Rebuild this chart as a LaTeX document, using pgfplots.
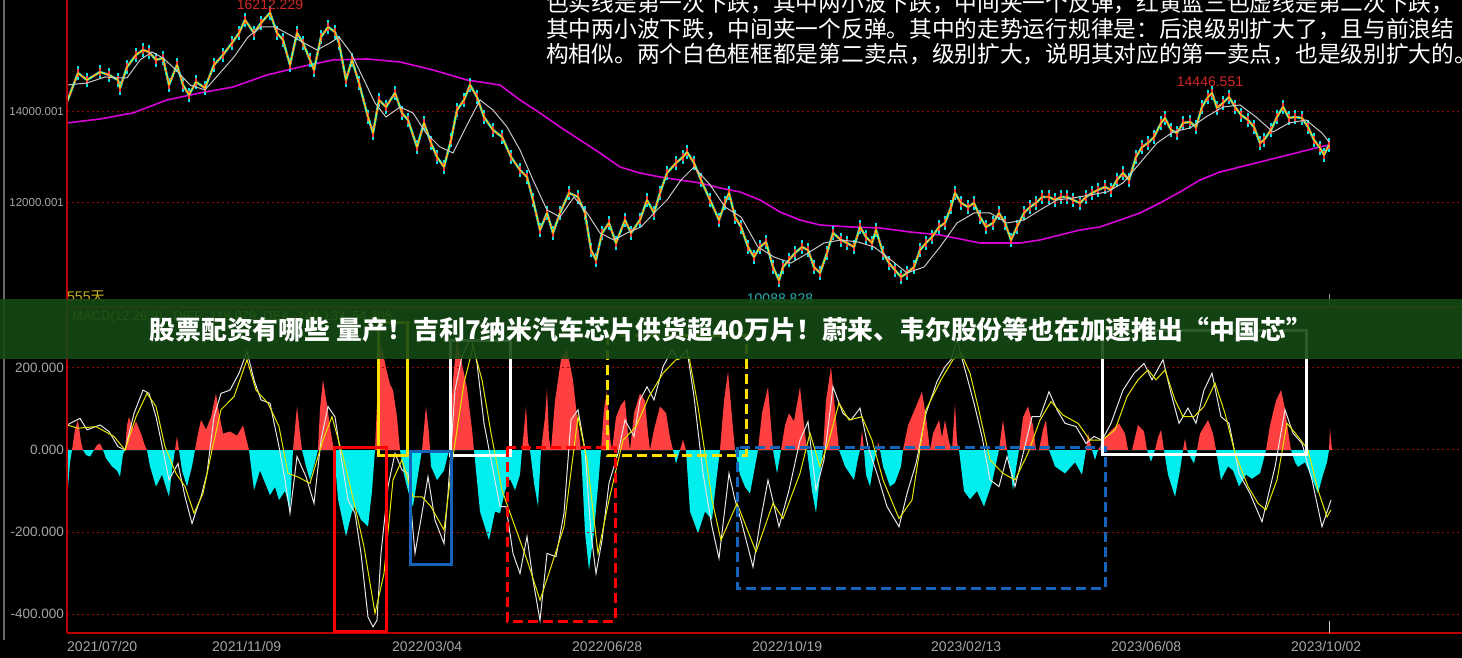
\documentclass[border=0pt]{standalone}
\usepackage{pgfplots}
\pgfplotsset{compat=1.18}
\usepackage{pgfplotstable}
\usepackage{fontspec}
\setmainfont{Liberation Sans}
\newfontfamily\cjk{Noto Sans CJK SC}
\definecolor{gridred}{RGB}{150,10,10}
\definecolor{framered}{RGB}{190,0,0}
\definecolor{pcyan}{RGB}{0,230,230}
\definecolor{pred}{RGB}{255,60,60}
\definecolor{pyellow}{RGB}{255,225,0}
\definecolor{magma}{RGB}{215,0,215}
\definecolor{magray}{RGB}{200,200,200}
\definecolor{histred}{RGB}{255,64,64}
\definecolor{histcyan}{RGB}{0,238,238}
\definecolor{deay}{RGB}{230,230,0}
\definecolor{boxblue}{RGB}{20,100,185}
\definecolor{banner}{RGB}{22,74,20}
\definecolor{ticklab}{RGB}{165,165,165}
\definecolor{labred}{RGB}{210,40,40}
\definecolor{labcyan}{RGB}{40,175,175}
\definecolor{labyel}{RGB}{200,180,30}
\definecolor{macdtxt}{RGB}{150,175,40}
\pgfplotsset{gridline/.style={gridred, line width=1pt, dash pattern=on 2pt off 3pt, forget plot}}

\pgfplotstableread[row sep=\\]{
x y\\
67 14220\\ 78 14857\\ 87 14703\\ 100 14879\\ 109 14813\\ 118 14703\\ 120 14527\\ 127 14989\\ 136 15253\\ 143 15363\\
149 15319\\ 156 15143\\ 163 15187\\ 169 14593\\ 177 15033\\ 183 14593\\ 189 14374\\ 196 14659\\ 205 14527\\ 214 15033\\
223 15253\\ 232 15516\\ 239 15736\\ 245 16022\\ 254 15736\\ 261 15956\\ 270 16180\\ 277 15736\\ 283 15582\\ 290 15033\\
297 15736\\ 303 15516\\ 310 15143\\ 314 14923\\ 321 15648\\ 328 15868\\ 335 15758\\ 339 15516\\ 346 14703\\ 352 15143\\
359 14637\\ 368 13890\\ 373 13538\\ 379 14264\\ 386 14110\\ 395 14418\\ 402 13978\\ 408 13824\\ 417 13231\\ 424 13758\\
431 13319\\ 437 13011\\ 444 12791\\ 451 13385\\ 457 14044\\ 464 14264\\ 470 14593\\ 477 14330\\ 484 13890\\ 493 13604\\
502 13451\\ 511 13011\\ 520 12725\\ 527 12571\\ 533 12066\\ 540 11407\\ 547 11780\\ 553 11341\\ 560 11780\\ 569 12220\\
578 12132\\ 585 11780\\ 591 10967\\ 596 10747\\ 602 11341\\ 609 11560\\ 616 11121\\ 625 11626\\ 631 11341\\ 640 11626\\
647 12066\\ 654 11780\\ 660 12220\\ 667 12659\\ 676 12879\\ 683 13011\\ 687 13121\\ 694 12879\\ 701 12505\\ 710 12066\\
719 11626\\ 725 12000\\ 729 12220\\ 735 11692\\ 741 11473\\ 748 11033\\ 754 10813\\ 760 11033\\ 766 11143\\ 773 10593\\
779 10300\\ 783 10593\\ 789 10747\\ 795 10901\\ 802 11033\\ 808 10967\\ 814 10593\\ 820 10462\\ 827 10901\\ 833 11341\\
841 11187\\ 847 11121\\ 854 11033\\ 860 11473\\ 866 11253\\ 872 11121\\ 876 11407\\ 883 10901\\ 889 10681\\ 895 10527\\
901 10374\\ 907 10462\\ 914 10593\\ 920 10967\\ 926 11121\\ 932 11253\\ 939 11473\\ 945 11560\\ 951 11912\\ 955 12220\\
961 12000\\ 968 11912\\ 974 12000\\ 980 11692\\ 986 11473\\ 993 11560\\ 999 11780\\ 1005 11560\\ 1011 11187\\ 1017 11473\\
1024 11780\\ 1030 11912\\ 1036 12000\\ 1042 12132\\ 1049 12132\\ 1055 12066\\ 1061 12132\\ 1067 12132\\ 1073 12066\\ 1080 12000\\
1086 12132\\ 1092 12220\\ 1098 12286\\ 1105 12352\\ 1111 12286\\ 1117 12505\\ 1123 12659\\ 1129 12505\\ 1136 13011\\ 1142 13231\\
1148 13319\\ 1154 13451\\ 1161 13758\\ 1165 13868\\ 1171 13604\\ 1177 13538\\ 1183 13758\\ 1190 13780\\ 1196 13670\\ 1202 14110\\
1208 14330\\ 1212 14418\\ 1217 14088\\ 1223 14198\\ 1229 14330\\ 1235 14110\\ 1241 13934\\ 1248 13824\\ 1254 13670\\ 1260 13319\\
1264 13385\\ 1271 13604\\ 1277 13890\\ 1283 14110\\ 1289 13868\\ 1295 13890\\ 1302 13868\\ 1308 13670\\ 1314 13385\\ 1320 13209\\
1324 13055\\ 1329 13275\\
}\price

\pgfplotstableread[row sep=\\]{
x y\\
67 14593\\ 87 14637\\ 105 14769\\ 118 14747\\ 127 14747\\ 140 15143\\ 152 15319\\ 163 15187\\ 176 14923\\ 190 14593\\
205 14484\\ 220 14857\\ 234 15209\\ 248 15648\\ 261 15868\\ 275 15868\\ 290 15692\\ 304 15516\\ 317 15363\\ 330 15516\\
339 15648\\ 351 15297\\ 364 14703\\ 375 14198\\ 386 13890\\ 400 14110\\ 413 13978\\ 426 13538\\ 440 13231\\ 453 13099\\
466 13670\\ 480 14264\\ 493 14044\\ 507 13670\\ 520 13165\\ 533 12505\\ 547 11846\\ 560 11692\\ 574 12132\\ 587 11780\\
600 11341\\ 614 11187\\ 627 11341\\ 641 11473\\ 654 11780\\ 667 12066\\ 681 12505\\ 694 12791\\ 710 12400\\ 725 11912\\
741 11692\\ 758 11033\\ 774 10813\\ 791 10681\\ 808 10901\\ 824 11121\\ 841 11187\\ 858 11143\\ 874 11033\\ 891 10747\\
907 10462\\ 924 10593\\ 940 11033\\ 957 11560\\ 974 11780\\ 990 11780\\ 1007 11560\\ 1024 11626\\ 1040 11846\\ 1057 12066\\
1073 12110\\ 1090 12176\\ 1107 12242\\ 1123 12440\\ 1140 12879\\ 1157 13319\\ 1173 13560\\ 1190 13648\\ 1206 13890\\ 1223 14110\\
1240 14154\\ 1256 13890\\ 1273 13560\\ 1289 13758\\ 1306 13824\\ 1322 13538\\ 1329 13341\\
}\maS

\pgfplotstableread[row sep=\\]{
x y\\
67 13758\\ 100 13846\\ 133 13978\\ 167 14264\\ 200 14418\\ 233 14549\\ 267 14813\\ 300 14989\\ 333 15143\\ 367 15165\\
400 15099\\ 433 14923\\ 467 14703\\ 500 14593\\ 520 14264\\ 540 13978\\ 560 13670\\ 580 13385\\ 600 13099\\ 620 12791\\
640 12659\\ 660 12571\\ 680 12505\\ 700 12440\\ 720 12330\\ 740 12242\\ 760 12066\\ 780 11802\\ 800 11626\\ 820 11516\\
850 11473\\ 880 11451\\ 910 11363\\ 940 11297\\ 960 11209\\ 980 11121\\ 1000 11121\\ 1020 11121\\ 1040 11187\\ 1060 11297\\
1080 11407\\ 1100 11473\\ 1120 11626\\ 1140 11780\\ 1160 12000\\ 1180 12242\\ 1200 12505\\ 1220 12681\\ 1240 12791\\ 1260 12901\\
1280 13011\\ 1300 13121\\ 1320 13231\\ 1329 13275\\
}\maL

\pgfplotstableread[row sep=\\]{
x y\\
67 61\\ 80 77\\ 87 49\\ 100 61\\ 109 45\\ 118 8\\ 125 0\\ 134 89\\ 143 146\\ 149 138\\ 156 81\\ 163 0\\ 169 -73\\ 178 -33\\
185 -114\\ 192 -179\\ 201 -114\\ 207 -57\\ 214 81\\ 221 138\\ 230 146\\ 239 187\\ 247 240\\ 254 171\\ 261 122\\ 270 114\\
279 8\\ 285 -73\\ 290 -154\\ 297 -16\\ 306 -65\\ 314 -130\\ 321 24\\ 328 106\\ 335 81\\ 341 -16\\ 348 -122\\ 355 -154\\
361 -252\\ 368 -407\\ 373 -431\\ 377 -415\\ 381 -252\\ 388 -89\\ 395 -8\\ 402 -49\\ 408 -57\\ 415 -252\\ 422 -154\\ 428 -65\\
435 -171\\ 444 -228\\ 448 -106\\ 455 146\\ 462 228\\ 471 276\\ 477 211\\ 484 65\\ 491 -24\\ 500 -138\\ 506 -138\\ 513 -252\\
520 -301\\ 527 -211\\ 533 -317\\ 540 -415\\ 547 -252\\ 556 -260\\ 564 -154\\ 571 73\\ 578 98\\ 585 0\\ 591 -203\\ 596 -301\\
602 -220\\ 609 -81\\ 618 -8\\ 625 73\\ 634 33\\ 640 122\\ 647 154\\ 654 122\\ 663 203\\ 672 244\\ 678 220\\ 687 244\\
694 130\\ 703 -57\\ 712 -187\\ 719 -264\\ 729 -57\\ 735 -122\\ 741 -171\\ 753 -285\\ 760 -179\\ 768 -73\\ 779 -187\\ 789 -98\\
800 24\\ 808 69\\ 816 -98\\ 824 -24\\ 833 154\\ 843 89\\ 851 73\\ 860 102\\ 868 8\\ 878 -65\\ 887 -138\\ 899 -187\\ 907 -106\\
916 -33\\ 926 89\\ 937 167\\ 945 203\\ 951 220\\ 957 268\\ 966 187\\ 974 114\\ 982 33\\ 990 -73\\ 999 -89\\ 1007 -16\\
1015 -89\\ 1024 0\\ 1032 81\\ 1040 81\\ 1049 142\\ 1057 98\\ 1065 65\\ 1076 57\\ 1086 16\\ 1094 33\\ 1102 24\\ 1111 65\\
1123 146\\ 1134 187\\ 1144 211\\ 1152 171\\ 1163 220\\ 1171 138\\ 1179 65\\ 1188 102\\ 1196 65\\ 1204 146\\ 1212 187\\ 1221 81\\
1229 65\\ 1239 -57\\ 1250 -106\\ 1262 -175\\ 1275 -41\\ 1285 98\\ 1293 41\\ 1302 16\\ 1312 -73\\ 1322 -187\\ 1331 -122\\
}\diff

\pgfplotstableread[row sep=\\]{
x y\\
67 61\\ 78 53\\ 96 57\\ 114 33\\ 125 0\\ 136 81\\ 147 138\\ 156 106\\ 165 8\\ 176 -57\\ 185 -89\\ 194 -154\\ 203 -106\\
212 0\\ 221 98\\ 234 130\\ 247 220\\ 256 146\\ 268 114\\ 279 57\\ 288 -57\\ 297 -65\\ 310 -81\\ 323 24\\ 332 81\\ 343 -16\\
355 -138\\ 364 -236\\ 375 -398\\ 384 -301\\ 393 -73\\ 402 -24\\ 413 -114\\ 422 -114\\ 431 -138\\ 444 -195\\ 453 -16\\
464 163\\ 473 252\\ 482 171\\ 491 41\\ 502 -98\\ 515 -187\\ 527 -268\\ 540 -366\\ 551 -285\\ 564 -187\\ 578 81\\ 587 -24\\
598 -252\\ 609 -122\\ 623 24\\ 636 57\\ 649 130\\ 663 187\\ 676 220\\ 689 228\\ 698 106\\ 712 -122\\ 721 -220\\ 737 -130\\
756 -248\\ 773 -130\\ 783 -167\\ 800 -57\\ 810 41\\ 820 -41\\ 829 24\\ 839 114\\ 849 73\\ 862 81\\ 872 24\\ 883 -73\\
899 -167\\ 912 -122\\ 926 98\\ 941 171\\ 953 220\\ 961 236\\ 970 187\\ 978 106\\ 990 -24\\ 1003 -57\\ 1015 -73\\ 1028 -8\\
1040 73\\ 1051 118\\ 1063 85\\ 1078 65\\ 1090 24\\ 1102 24\\ 1115 49\\ 1127 130\\ 1138 171\\ 1148 195\\ 1156 171\\ 1165 195\\
1175 122\\ 1183 81\\ 1194 81\\ 1204 106\\ 1215 163\\ 1225 89\\ 1235 -8\\ 1248 -89\\ 1258 -130\\ 1266 -146\\ 1277 -73\\
1287 65\\ 1298 33\\ 1308 0\\ 1318 -98\\ 1327 -163\\ 1331 -146\\
}\dea

\pgfplotstableread[row sep=\\]{
x y\\
67 0\\ 67 -120\\ 70 -30\\ 72 0\\ 75 50\\ 78 73\\ 81 20\\ 83 0\\ 86 -12\\ 90 -16\\ 94 0\\ 97 12\\ 100 16\\ 103 0\\ 106 -20\\ 112 -40\\ 117 -50\\ 120 -65\\ 123 -10\\ 125 0\\
127 60\\ 129 81\\ 133 50\\ 136 70\\ 141 40\\ 145 10\\ 147 0\\ 150 -40\\ 156 -89\\ 162 -60\\ 169 -114\\ 172 -50\\ 175 0\\ 177 33\\ 179 0\\ 182 -50\\ 187 -89\\ 192 -40\\ 195 0\\
198 40\\ 201 73\\ 206 50\\ 211 80\\ 216 138\\ 219 90\\ 223 40\\ 230 45\\ 237 35\\ 243 60\\ 247 20\\ 249 0\\ 254 -98\\ 260 -50\\ 265 -80\\ 270 -110\\ 275 -90\\ 279 -122\\
285 -100\\ 290 -146\\ 293 0\\ 296 80\\ 297 106\\ 300 40\\ 302 0\\ 306 -40\\ 310 -73\\ 315 -30\\ 318 0\\ 320 100\\ 323 171\\ 327 110\\ 331 40\\ 334 0\\ 338 -120\\ 346 -211\\
352 -150\\ 355 -138\\ 361 -170\\ 368 -187\\ 372 -100\\ 375 0\\ 378 170\\ 381 260\\ 386 200\\ 390 160\\ 393 146\\ 397 80\\ 400 0\\ 404 -60\\ 408 -100\\ 413 -138\\ 418 -60\\
422 0\\ 426 106\\ 429 40\\ 431 -40\\ 437 -73\\ 444 -50\\ 447 -20\\ 449 0\\ 453 170\\ 457 270\\ 462 210\\ 467 150\\ 472 50\\ 474 0\\ 480 -150\\ 489 -220\\ 495 -150\\ 500 -154\\
505 -100\\ 510 -70\\ 515 -98\\ 520 -60\\ 522 0\\ 524 50\\ 526 106\\ 528 20\\ 530 0\\ 534 -80\\ 538 -138\\ 541 0\\ 545 80\\ 547 150\\ 549 30\\ 551 0\\ 555 120\\ 561 220\\
567 245\\ 573 170\\ 578 60\\ 581 0\\ 585 -200\\ 589 -293\\ 594 -200\\ 599 -60\\ 601 0\\ 604 100\\ 607 146\\ 610 30\\ 612 0\\ 616 80\\ 621 110\\ 625 122\\ 628 40\\ 630 0\\
634 90\\ 640 138\\ 645 120\\ 648 40\\ 650 0\\ 654 50\\ 660 106\\ 666 90\\ 670 30\\ 673 0\\ 676 -33\\ 680 0\\ 683 25\\ 686 0\\ 690 -150\\ 698 -203\\ 705 -150\\ 712 -170\\
716 -80\\ 720 0\\ 724 120\\ 728 191\\ 732 80\\ 735 0\\ 740 -60\\ 745 -90\\ 750 -106\\ 755 -40\\ 758 0\\ 762 90\\ 768 154\\ 771 60\\ 773 0\\ 777 -57\\ 781 0\\ 785 60\\
789 89\\ 794 70\\ 800 154\\ 804 60\\ 807 0\\ 812 -100\\ 816 -154\\ 820 -60\\ 823 0\\ 826 120\\ 831 203\\ 835 100\\ 839 0\\ 845 -40\\ 854 -73\\ 858 -20\\ 860 0\\ 862 49\\
864 0\\ 866 -60\\ 870 -89\\ 874 -30\\ 877 0\\ 878 20\\ 880 0\\ 883 -40\\ 890 -89\\ 895 -80\\ 901 -40\\ 903 0\\ 908 60\\ 915 100\\ 922 142\\ 926 80\\ 930 0\\ 933 40\\
939 73\\ 942 30\\ 945 73\\ 949 20\\ 952 0\\ 955 114\\ 957 20\\ 959 0\\ 964 -100\\ 970 -120\\ 977 -100\\ 984 -138\\ 992 -80\\ 999 0\\ 1003 73\\ 1007 0\\ 1011 -60\\ 1013 -98\\
1017 -30\\ 1019 0\\ 1023 80\\ 1028 106\\ 1033 60\\ 1036 0\\ 1039 0\\ 1043 50\\ 1046 73\\ 1049 0\\ 1055 -40\\ 1065 -57\\ 1075 -30\\ 1082 -60\\ 1086 0\\ 1088 41\\ 1092 0\\
1095 -24\\ 1098 0\\ 1105 30\\ 1112 50\\ 1119 65\\ 1125 40\\ 1128 0\\ 1132 0\\ 1138 61\\ 1144 45\\ 1147 0\\ 1151 -28\\ 1155 0\\ 1158 30\\ 1161 49\\ 1164 0\\ 1168 -60\\
1175 -114\\ 1180 -50\\ 1183 0\\ 1185 28\\ 1187 0\\ 1191 -20\\ 1194 -33\\ 1197 0\\ 1200 40\\ 1208 73\\ 1213 40\\ 1216 0\\ 1221 -73\\ 1228 -40\\ 1233 -50\\ 1239 -89\\
1246 -60\\ 1252 -70\\ 1260 -57\\ 1264 -20\\ 1266 0\\ 1270 60\\ 1276 120\\ 1281 146\\ 1285 100\\ 1289 30\\ 1291 0\\ 1295 -30\\ 1298 -41\\ 1305 -30\\ 1312 -70\\ 1318 -106\\
1323 -60\\ 1327 -30\\ 1329 0\\ 1330 53\\ 1332 0\\
}\hist

\begin{document}
\begin{tikzpicture}
\useasboundingbox (0pt,0pt) rectangle (1462pt,-658pt);
\clip (0pt,0pt) rectangle (1462pt,-658pt);
\fill[black] (0pt,0pt) rectangle (1462pt,-658pt);

% ---------- price panel ----------
\begin{axis}[at={(67pt,-305pt)}, anchor=south west, scale only axis,
  width=1395pt, height=305pt, xmin=67, xmax=1462, ymin=9758, ymax=16461,
  axis line style={draw=none}, tick style={draw=none},
  xtick=\empty, ytick=\empty]
\addplot[gridline] coordinates {(67,14000) (1462,14000)};
\addplot[gridline] coordinates {(67,12000) (1462,12000)};
\addplot[magma, line width=1.6pt] table {\maL};
\addplot[pcyan, line width=2.4pt,
  error bars/.cd, y dir=both, y fixed=150, error mark=none,
  error bar style={pcyan, line width=1.6pt}] table {\price};
\addplot[pred, line width=2pt, dash pattern=on 2pt off 5pt on 4pt off 3pt,
  error bars/.cd, y dir=both, y fixed=80, error mark=none,
  error bar style={pred, line width=1.2pt, solid}] table {\price};
\addplot[pyellow, line width=0.9pt] table {\price};
\addplot[magray, line width=1pt] table {\maS};
\end{axis}

% ---------- MACD histogram, positive part (clipped by its own axis) ----------
\begin{axis}[at={(67pt,-450pt)}, anchor=south west, scale only axis,
  width=1395pt, height=142pt, xmin=67, xmax=1462, ymin=0, ymax=346, hide axis]
\addplot[fill=histred, draw=none] table {\hist} -- cycle;
\end{axis}
% ---------- MACD histogram, negative part ----------
\begin{axis}[at={(67pt,-633pt)}, anchor=south west, scale only axis,
  width=1395pt, height=183pt, xmin=67, xmax=1462, ymin=-446, ymax=0, hide axis]
\addplot[fill=histcyan, draw=none] table {\hist} -- cycle;
\end{axis}

% ---------- MACD panel lines ----------
\begin{axis}[at={(67pt,-633pt)}, anchor=south west, scale only axis,
  width=1395pt, height=325pt, xmin=67, xmax=1462, ymin=-446, ymax=346,
  axis line style={draw=none}, tick style={draw=none},
  xtick=\empty, ytick=\empty]
\addplot[gridline] coordinates {(67,200) (1462,200)};
\addplot[gridline] coordinates {(1332,0) (1462,0)};
\addplot[gridline] coordinates {(67,-200) (1462,-200)};
\addplot[gridline] coordinates {(67,-400) (1462,-400)};
\addplot[white!90!black, line width=1pt] table {\diff};
\addplot[deay, line width=1pt] table {\dea};
\end{axis}

\begin{scope}[x=1pt,y=-1pt]
% left gray frame
\draw[black!60!white, line width=1.2pt] (4,0) -- (4,640);
% tick labels
\begin{scope}[every node/.style={text=ticklab, anchor=east, inner sep=0pt, font=\fontsize{11.5}{13}\selectfont}]
\node at (64,112) {14000.001};
\node at (64,203) {12000.001};
\end{scope}
\begin{scope}[every node/.style={text=ticklab, anchor=east, inner sep=0pt, font=\fontsize{13.5}{15}\selectfont}]
\node at (64,368) {200.000};
\node at (64,450) {0.000};
\node at (64,532) {-200.000};
\node at (64,614) {-400.000};
\end{scope}
\begin{scope}[every node/.style={text=ticklab, anchor=west, inner sep=0pt, font=\fontsize{14}{16}\selectfont}]
\node at (67,646) {2021/07/20};
\node at (212,646) {2021/11/09};
\node at (392,646) {2022/03/04};
\node at (572,646) {2022/06/28};
\node at (752,646) {2022/10/19};
\node at (931,646) {2023/02/13};
\node at (1111,646) {2023/06/08};
\node at (1291,646) {2023/10/02};
\end{scope}
% frame lines
\draw[framered, line width=1.5pt] (67,0) -- (67,633);
\draw[framered, line width=1.5pt] (67,633) -- (1462,633);
\draw[framered!80!black, line width=1.5pt] (67,307) -- (1462,307);
\draw[white!80!black, line width=0.8pt] (1329,621) -- (1329,633);
\draw[white!60!black, line width=0.8pt] (1329,294) -- (1329,306);
% value labels
\node[text=labred, inner sep=0pt, font=\fontsize{14}{16}\selectfont] at (270,5) {16212.229};
\node[text=labred, inner sep=0pt, font=\fontsize{14}{16}\selectfont] at (1210,82) {14446.551};
\node[text=labcyan, inner sep=0pt, font=\fontsize{14}{16}\selectfont] at (780,299) {10088.828};
\node[text=labyel, anchor=west, inner sep=0pt, font=\fontsize{14}{16}\selectfont] at (67,297) {555{\cjk 天}};
\node[text=macdtxt, anchor=west, inner sep=0pt, font=\fontsize{13}{15}\selectfont] at (72,317) {MACD(12,26,9)\ \ \ DIFF -118.979\ \ DEA -146.133\ \ 54.308};
% boxes
\draw[pyellow, line width=3pt] (378,322) rectangle (407,455);
\draw[white, line width=3pt] (450,340) rectangle (510,455);
\draw[red, line width=3pt] (334,447) rectangle (386,631);
\draw[boxblue, line width=3pt] (410,451) rectangle (451,564);
\draw[red, line width=3pt, dash pattern=on 10pt off 5pt] (507,447) rectangle (615,621);
\draw[pyellow, line width=3pt, dash pattern=on 10pt off 5pt] (607,335) rectangle (746,455);
\draw[boxblue, line width=3pt, dash pattern=on 10pt off 5pt] (737,447) rectangle (1105,588);
\draw[white, line width=3pt] (1102,330) rectangle (1306,454);
% banner
\fill[banner, opacity=0.9] (0,299) rectangle (1462,359);
\node[text=white, inner sep=0pt, font={\cjk\bfseries\fontsize{25.8}{28}\selectfont}] at (731,330) {股票配资有哪些 量产！吉利7纳米汽车芯片供货超40万片！蔚来、韦尔股份等也在加速推出“中国芯”};
% commentary text
\begin{scope}[every node/.style={text=white, anchor=west, inner sep=0pt, font={\cjk\fontsize{22.7}{26}\selectfont}}]
\node at (546,3) {色实线是第一次下跌，其中两小波下跌，中间夹一个反弹，红黄蓝三色虚线是第二次下跌，};
\node at (546,29) {其中两小波下跌，中间夹一个反弹。其中的走势运行规律是：后浪级别扩大了，且与前浪结};
\node at (546,54) {构相似。两个白色框框都是第二卖点，级别扩大，说明其对应的第一卖点，也是级别扩大的。};
\end{scope}
\end{scope}
\end{tikzpicture}
\end{document}
